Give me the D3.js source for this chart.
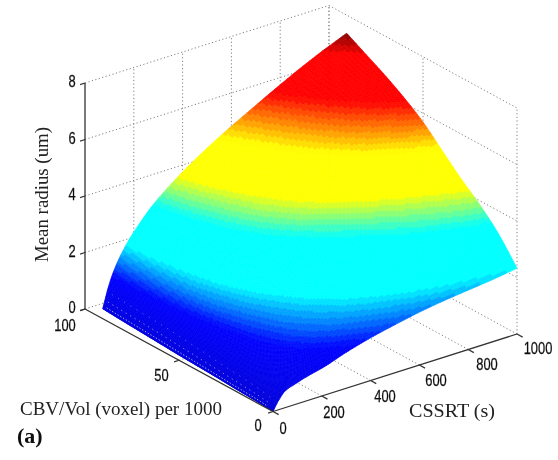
<!DOCTYPE html>
<html>
<head>
<meta charset="utf-8">
<style>
  html, body { margin: 0; background: #fff; }
  svg { display: block; }
  .tick { font-family: "Liberation Sans", sans-serif; font-size: 17px; fill: #111; stroke: #111; stroke-width: 0.25px; }
  .lab { font-family: "Liberation Serif", serif; font-size: 18px; fill: #222; }
</style>
</head>
<body>
<div id="canvas"></div>
<script src="https://cdn.jsdelivr.net/npm/d3@7"></script>
<script>
"use strict"

/* values, surface heights in um */
let cssrtGrid = [0, 25, 50, 100, 150, 200, 300, 400, 500, 600, 700, 800, 900, 1000];
let cbvGrid = [0, 10, 20, 30, 40, 50, 60, 70, 80, 90.6];
let radius00 = [0, 0.35, 0.59, 0.75, 0.88, 0.98, 1.27, 1.51, 1.70, 1.87, 2.00, 2.10, 2.20, 2.33];
let radius10 = [0.05, 0.50, 0.72, 1.04, 1.28, 1.49, 1.80, 2.05, 2.28, 2.48, 2.68, 2.87, 3.04, 3.20];
let radius20 = [0.08, 0.60, 0.87, 1.27, 1.55, 1.79, 2.16, 2.48, 2.75, 3.00, 3.24, 3.47, 3.68, 3.87];
let radius30 = [0.12, 0.68, 0.99, 1.44, 1.77, 2.05, 2.48, 2.83, 3.15, 3.43, 3.71, 3.97, 4.21, 4.43];
let radius40 = [0.15, 0.78, 1.13, 1.65, 2.02, 2.35, 2.84, 3.23, 3.60, 3.92, 4.24, 4.54, 4.81, 5.06];
let radius50 = [0.18, 0.87, 1.27, 1.85, 2.27, 2.64, 3.18, 3.63, 4.05, 4.40, 4.76, 5.10, 5.41, 5.69];
let radius60 = [0.22, 0.95, 1.38, 2.02, 2.47, 2.86, 3.46, 3.96, 4.39, 4.78, 5.17, 5.54, 5.88, 6.18];
let radius70 = [0.26, 1.00, 1.48, 2.15, 2.63, 3.06, 3.69, 4.22, 4.69, 5.11, 5.52, 5.92, 6.28, 6.60];
let radius80 = [0.30, 1.05, 1.56, 2.28, 2.79, 3.23, 3.91, 4.46, 4.96, 5.39, 5.83, 6.25, 6.63, 6.97];
let radius90 = [0.35, 1.10, 1.65, 2.40, 2.94, 3.41, 4.12, 4.71, 5.23, 5.70, 6.16, 6.60, 7.00, 7.36];
let radiusRows = [radius00, radius10, radius20, radius30, radius40, radius50, radius60, radius70, radius80, radius90];

let cssrtTicks = [0, 200, 400, 600, 800, 1000];
let cbvTicks = [0, 50, 100];
let radiusTicks = [0, 2, 4, 6, 8];

/* colormap as it looks in the picture, flat stretches on cyan, yellow and red */
let colourStops = [0, 1.4, 2.35, 3.45, 4.2, 5.1, 6.1, 6.95, 7.36];
let colourValues = ["#0000d8", "#0000ff", "#00ffff", "#00ffff", "#ffff00", "#ffff00", "#ff0000", "#ff0000", "#800000"];

let drawing = d3.select("#canvas")
    .append("svg")
    .attr("width", 558)
    .attr("height", 460);

let defs = drawing.append("defs");
defs.append("filter").attr("id", "soft")
    .append("feGaussianBlur").attr("stdDeviation", 0.45);
defs.append("filter").attr("id", "softText")
    .append("feGaussianBlur").attr("stdDeviation", 0.3);

/* the oblique view: each data axis moves the point in x and in y */
let cssrtX = d3.scaleLinear().domain([0, 1000]).range([0, 244]);
let cssrtY = d3.scaleLinear().domain([0, 1000]).range([0, -77.5]);
let cbvX = d3.scaleLinear().domain([0, 100]).range([0, -188]);
let cbvY = d3.scaleLinear().domain([0, 100]).range([0, -102.5]);
let radiusY = d3.scaleLinear().domain([0, 8]).range([0, -226]);

function project(cssrt, cbv, radius) {
    return [273 + cssrtX(cssrt) + cbvX(cbv), 411.5 + cssrtY(cssrt) + cbvY(cbv) + radiusY(radius)];
}

let colour = d3.scaleLinear().domain(colourStops).range(colourValues).clamp(true);
let bands = 64;
let bandOf = d3.scaleQuantize().domain([0, 7.36]).range(d3.range(bands));

/* monotone curve through the read values, same idea as d3.curveMonotoneX */
function slopes(xs, ys) {
    let n = xs.length, d = [], m = [];
    for (let i = 0; i < n - 1; i++) d.push((ys[i + 1] - ys[i]) / (xs[i + 1] - xs[i]));
    m[0] = d[0];
    m[n - 1] = d[n - 2];
    for (let i = 1; i < n - 1; i++) {
        let h0 = xs[i] - xs[i - 1], h1 = xs[i + 1] - xs[i];
        m[i] = d[i - 1] * d[i] <= 0 ? 0 : (h0 + h1) * 3 / ((2 * h1 + h0) / d[i - 1] + (h1 + 2 * h0) / d[i]);
    }
    return m;
}

function curveAt(xs, ys, m, x) {
    let i = Math.max(0, Math.min(d3.bisectRight(xs, x) - 1, xs.length - 2));
    let h = xs[i + 1] - xs[i], t = (x - xs[i]) / h;
    return (2 * t * t * t - 3 * t * t + 1) * ys[i] + (t * t * t - 2 * t * t + t) * h * m[i]
        + (-2 * t * t * t + 3 * t * t) * ys[i + 1] + (t * t * t - t * t) * h * m[i + 1];
}

let rowSlopes = radiusRows.map(row => slopes(cssrtGrid, row));

function height(cssrt, cbv) {
    let across = radiusRows.map((row, j) => curveAt(cssrtGrid, row, rowSlopes[j], cssrt));
    return curveAt(cbvGrid, across, slopes(cbvGrid, across), cbv);
}

/* dotted grid on the back walls and the floor */
let gridLines = [];
radiusTicks.filter(r => r > 0).forEach(r => {
    gridLines.push([project(0, 100, r), project(1000, 100, r)]);
    gridLines.push([project(1000, 100, r), project(1000, 0, r)]);
});
cssrtTicks.filter(c => c > 0).forEach(c => {
    gridLines.push([project(c, 100, 0), project(c, 100, 8)]);
    gridLines.push([project(c, 0, 0), project(c, 100, 0)]);
});
cbvTicks.filter(c => c > 0).forEach(c => {
    gridLines.push([project(1000, c, 0), project(1000, c, 8)]);
    gridLines.push([project(0, c, 0), project(1000, c, 0)]);
});
gridLines.push([project(1000, 0, 0), project(1000, 0, 8)]);

drawing.append("g").selectAll("line").data(gridLines).join("line")
    .attr("x1", d => d[0][0]).attr("y1", d => d[0][1])
    .attr("x2", d => d[1][0]).attr("y2", d => d[1][1])
    .attr("stroke", "#808080")
    .attr("stroke-width", 1)
    .attr("stroke-dasharray", "1.2 2.4");

/* surface, split finer than the read grid so the colour bands come out smooth.
   cssrt steps bunch up near 0 because the surface climbs fast there */
let steps = 120;
let maxCbv = cbvGrid[cbvGrid.length - 1];
let nodes = d3.range(steps + 1).map(j => d3.range(steps + 1).map(i => {
    let c = 1000 * Math.pow(i / steps, 1.7), v = maxCbv * j / steps;
    return { c: c, v: v, z: height(c, v) };
}));
let quads = [];
d3.range(steps - 1, -1, -1).forEach(j => {
    d3.range(steps - 1, -1, -1).forEach(i => {
        let corners = [nodes[j][i], nodes[j][i + 1], nodes[j + 1][i + 1], nodes[j + 1][i]];
        quads.push({
            pts: corners.map(n => project(n.c, n.v, n.z)),
            z: d3.mean(corners, n => n.z)
        });
    });
});

let surface = drawing.append("g").attr("filter", "url(#soft)");
surface.selectAll("polygon").data(quads).join("polygon")
    .attr("points", d => d.pts.map(p => p.join(",")).join(" "))
    .attr("fill", d => colour((bandOf(d.z) + 0.5) * 7.36 / bands))
    .attr("stroke", d => colour((bandOf(d.z) + 0.5) * 7.36 / bands))
    .attr("stroke-width", 0.7);

/* white speckle where the scatter thins out next to the CBV axis */
let speckle = drawing.append("g").attr("filter", "url(#soft)");
[3, 9, 18].forEach((c, k) => {
    let line = d3.range(4, 90, 1).map(v => project(c, v, height(c, v)));
    speckle.append("path")
        .attr("d", d3.line()(line))
        .attr("fill", "none")
        .attr("stroke", "#fff")
        .attr("stroke-width", 1)
        .attr("stroke-opacity", 0.75 - k * 0.2)
        .attr("stroke-dasharray", "1.2 " + (2 + k * 2));
});

/* axes and tick marks */
let axes = drawing.append("g").attr("stroke", "#333").attr("stroke-width", 1.3).attr("fill", "none");
function segment(a, b) {
    axes.append("line").attr("x1", a[0]).attr("y1", a[1]).attr("x2", b[0]).attr("y2", b[1]);
}
segment(project(0, 100, 0), project(0, 100, 8));
segment(project(0, 100, 0), project(0, 0, 0));
segment(project(0, 0, 0), project(1000, 0, 0));
radiusTicks.forEach(r => segment(project(0, 100, r), project(-20, 100, r)));
cbvTicks.forEach(c => segment(project(0, c, 0), project(-20, c, 0)));
cssrtTicks.forEach(c => segment(project(c, 0, 0), project(c, -3, 0)));

/* tick labels, squeezed a bit like the original */
let labels = drawing.append("g").attr("filter", "url(#softText)");
function label(x, y, text) {
    labels.append("text").attr("class", "tick")
        .attr("transform", "translate(" + x + "," + y + ") scale(0.76,1)")
        .attr("text-anchor", "middle")
        .attr("dominant-baseline", "central")
        .text(text);
}
let radiusLabelY = d3.scaleLinear().domain([0, 8]).range([307, 81]);
radiusTicks.forEach(r => label(72, radiusLabelY(r), String(r)));
let cbvLabelX = d3.scaleLinear().domain([0, 100]).range([258, 65]);
let cbvLabelY = d3.scaleLinear().domain([0, 100]).range([425, 325]);
cbvTicks.forEach(c => label(cbvLabelX(c), cbvLabelY(c), String(c)));
let cssrtLabelX = d3.scaleLinear().domain([0, 1000]).range([283, 538]);
let cssrtLabelY = d3.scaleLinear().domain([0, 1000]).range([428, 348]);
cssrtTicks.forEach(c => label(cssrtLabelX(c), cssrtLabelY(c), String(c)));

/* axis titles */
labels.append("text").attr("class", "lab")
    .attr("x", 20).attr("y", 415)
    .attr("textLength", 202).attr("lengthAdjust", "spacingAndGlyphs")
    .text("CBV/Vol (voxel) per 1000");
labels.append("text").attr("class", "lab")
    .attr("x", 409).attr("y", 417)
    .attr("textLength", 86).attr("lengthAdjust", "spacingAndGlyphs")
    .text("CSSRT (s)");
labels.append("text").attr("class", "lab")
    .attr("transform", "translate(48,262) rotate(-90)")
    .attr("textLength", 135).attr("lengthAdjust", "spacingAndGlyphs")
    .text("Mean radius (um)");
labels.append("text")
    .attr("x", 17).attr("y", 443)
    .attr("font-family", "Liberation Serif, serif")
    .attr("font-size", 22).attr("font-weight", "bold")
    .attr("fill", "#111")
    .text("(a)");
</script>
</body>
</html>
